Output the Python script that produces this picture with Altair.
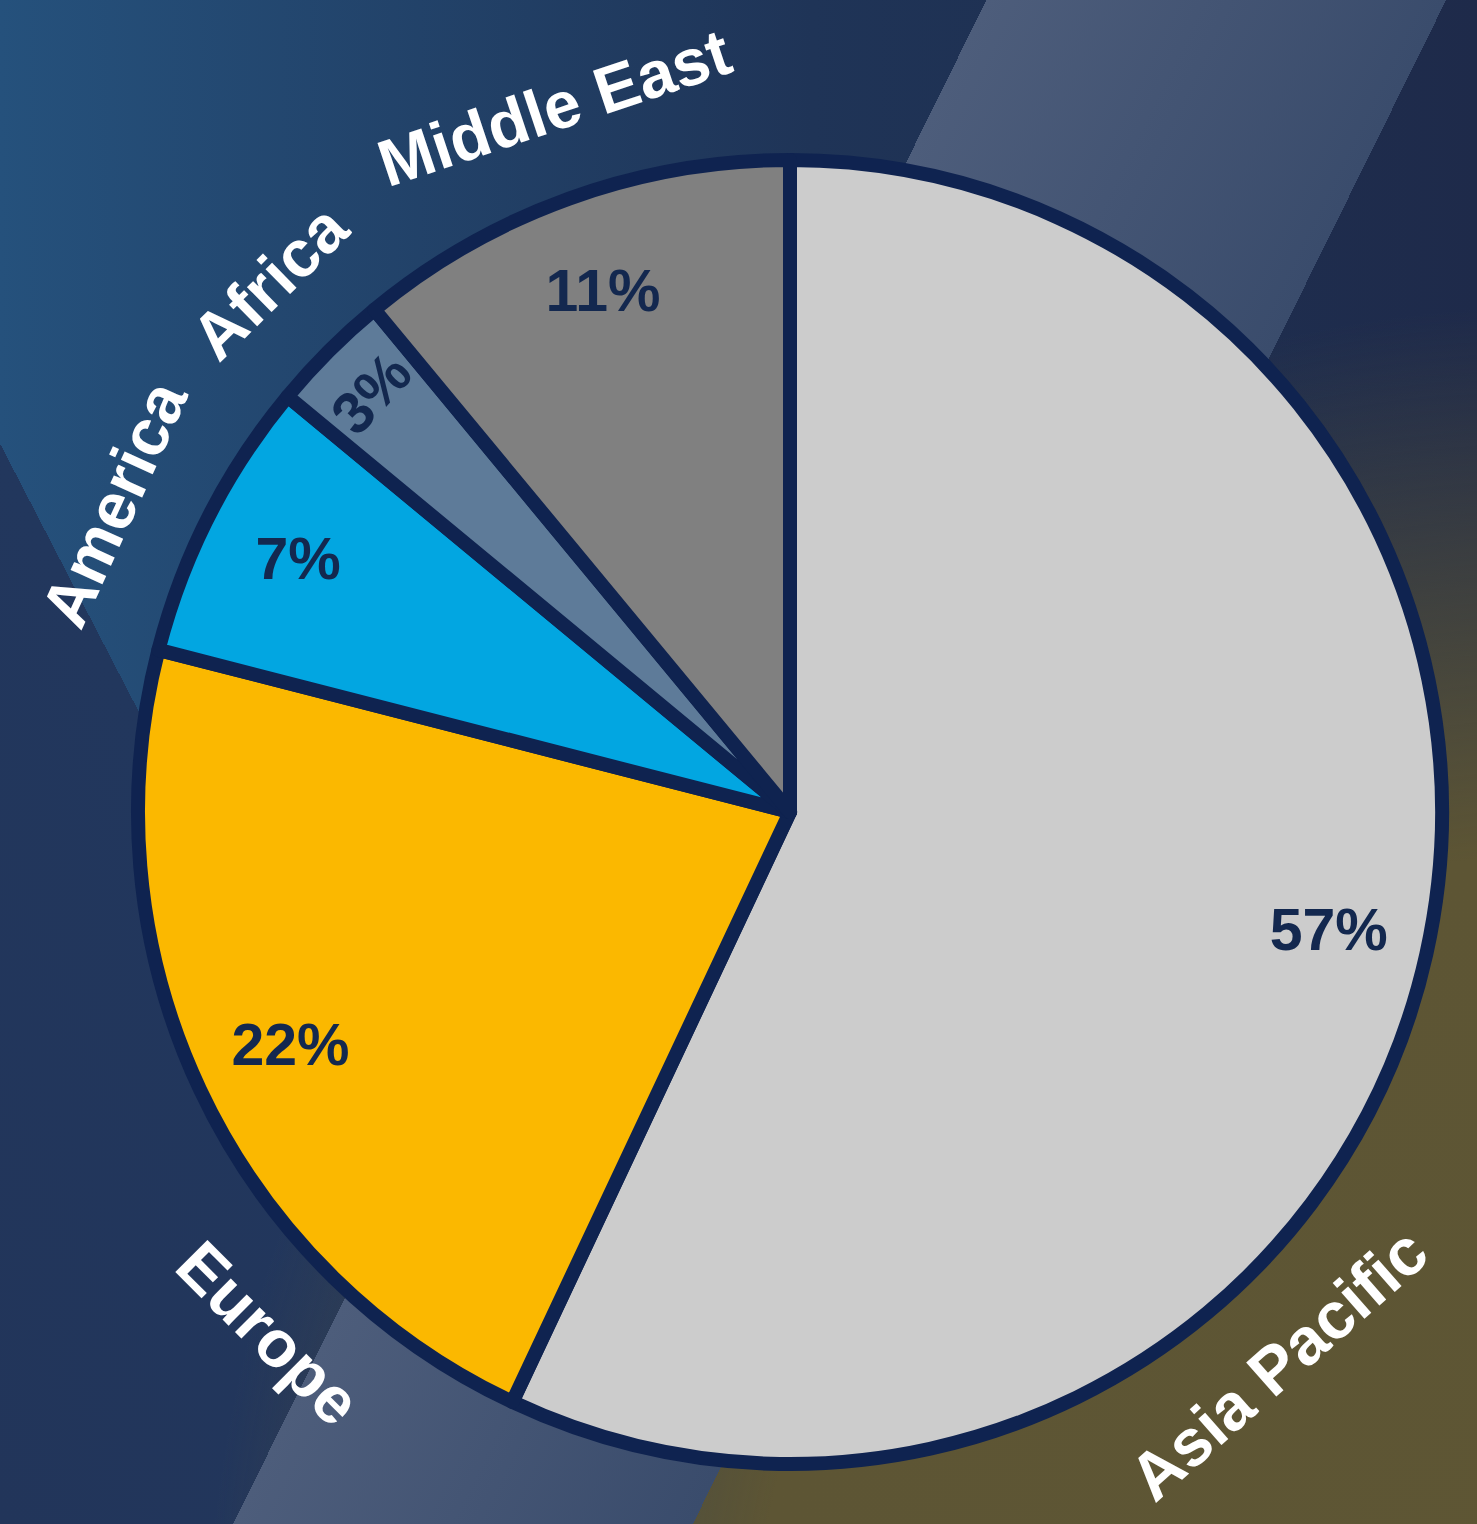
import math
import altair as alt
import pandas as pd

# ---- data ----
regions = ["Asia Pacific", "Europe", "America", "Africa", "Middle East"]
shares = [57, 22, 7, 3, 11]
slice_colors = ["#cccccc", "#fbb800", "#02a6e1", "#5e7b99", "#808080"]
# angular position (degrees clockwise from 12 o'clock) of each outer region label
label_angles = [138.5, 225.0, 294.5, 315.5, 341.5]

# ---- layout ----
W, H = 1477, 1524
CX, CY = 790, 812
R = 652

pie_df = pd.DataFrame({"region": regions, "share": shares, "order": list(range(len(regions)))})
lab_df = pd.DataFrame({"region": regions, "ang": label_angles})
bg_df = pd.DataFrame({"k": [0]})

TR = "rgba(0,0,0,0)"


def bg_layer(fill):
    return alt.Chart(bg_df).mark_rect(fill=fill).encode(
        x=alt.value(0), x2=alt.value(W), y=alt.value(0), y2=alt.value(H)
    )


base = bg_layer({
    "gradient": "linear", "x1": 0, "y1": 0, "x2": 1, "y2": 0,
    "stops": [
        {"offset": 0, "color": "#25517c"},
        {"offset": 0.55, "color": "#1f3457"},
        {"offset": 1, "color": "#1e2a4a"},
    ],
})

dark_lower_left = bg_layer({
    "gradient": "linear", "x1": 0, "y1": 1, "x2": 0.441, "y2": 0.7645,
    "stops": [
        {"offset": 0, "color": "#22355a"},
        {"offset": 0.668, "color": "#22375d"},
        {"offset": 0.668, "color": TR},
        {"offset": 1, "color": TR},
    ],
})

olive = bg_layer({
    "gradient": "radial", "x1": 1.05, "y1": 1.1, "r1": 0, "x2": 1.05, "y2": 1.1, "r2": 0.9,
    "stops": [
        {"offset": 0, "color": "#5e5634"},
        {"offset": 0.6, "color": "#5d5534"},
        {"offset": 1, "color": "rgba(94,86,52,0)"},
    ],
})

stripe = bg_layer({
    "gradient": "linear", "x1": 0, "y1": 0, "x2": 1, "y2": 0.51,
    "stops": [
        {"offset": 0, "color": TR},
        {"offset": 0.53, "color": TR},
        {"offset": 0.53, "color": "#4d5d7b"},
        {"offset": 0.777, "color": "#3a4c6c"},
        {"offset": 0.777, "color": TR},
        {"offset": 1, "color": TR},
    ],
})

theta_pie = alt.Theta("share:Q", stack=True)
order_pie = alt.Order("order:Q")

pie = alt.Chart(pie_df).mark_arc(
    outerRadius=R, stroke="#0f2350", strokeWidth=14, strokeJoin="round"
).encode(
    theta=theta_pie,
    order=order_pie,
    color=alt.Color("region:N", scale=alt.Scale(domain=regions, range=slice_colors), legend=None),
    x=alt.value(CX), y=alt.value(CY),
)

pct_text_props = dict(font="Liberation Sans", fontSize=59, fontWeight="bold",
                      color="#13284f", align="center", baseline="middle")

pct = alt.Chart(pie_df).transform_calculate(
    label="datum.share + '%'"
).mark_text(radius=552, **pct_text_props).encode(
    theta=theta_pie,
    order=order_pie,
    text="label:N",
    opacity=alt.condition(alt.datum.region == "Africa", alt.value(0), alt.value(1)),
    x=alt.value(CX), y=alt.value(CY),
)

pct_small = alt.Chart(pie_df).transform_calculate(
    label="datum.share + '%'"
).mark_text(radius=590, angle=313, **pct_text_props).encode(
    theta=theta_pie,
    order=order_pie,
    text="label:N",
    opacity=alt.condition(alt.datum.region == "Africa", alt.value(1), alt.value(0)),
    x=alt.value(CX), y=alt.value(CY),
)

outer = alt.Chart(lab_df).transform_calculate(
    rot="(datum.ang > 90 && datum.ang < 270) ? (datum.ang + 180) % 360 : datum.ang"
).mark_text(
    radius=740, font="Liberation Sans", fontSize=66, fontWeight="bold",
    color="white", align="center", baseline="middle"
).encode(
    theta=alt.Theta("ang:Q", scale=alt.Scale(domain=[0, 360], range=[0, 2 * math.pi])),
    angle=alt.Angle("rot:Q", scale=None),
    text="region:N",
    x=alt.value(CX), y=alt.value(CY),
)

chart = alt.layer(
    base, dark_lower_left, olive, stripe, pie, pct, pct_small, outer
).resolve_scale(
    theta="independent"
).properties(
    width=W, height=H, padding=0, autosize="none", background="#1f3457"
).configure_view(strokeWidth=0)

chart.save("out.html", embed_options={"renderer": "svg", "actions": False})
